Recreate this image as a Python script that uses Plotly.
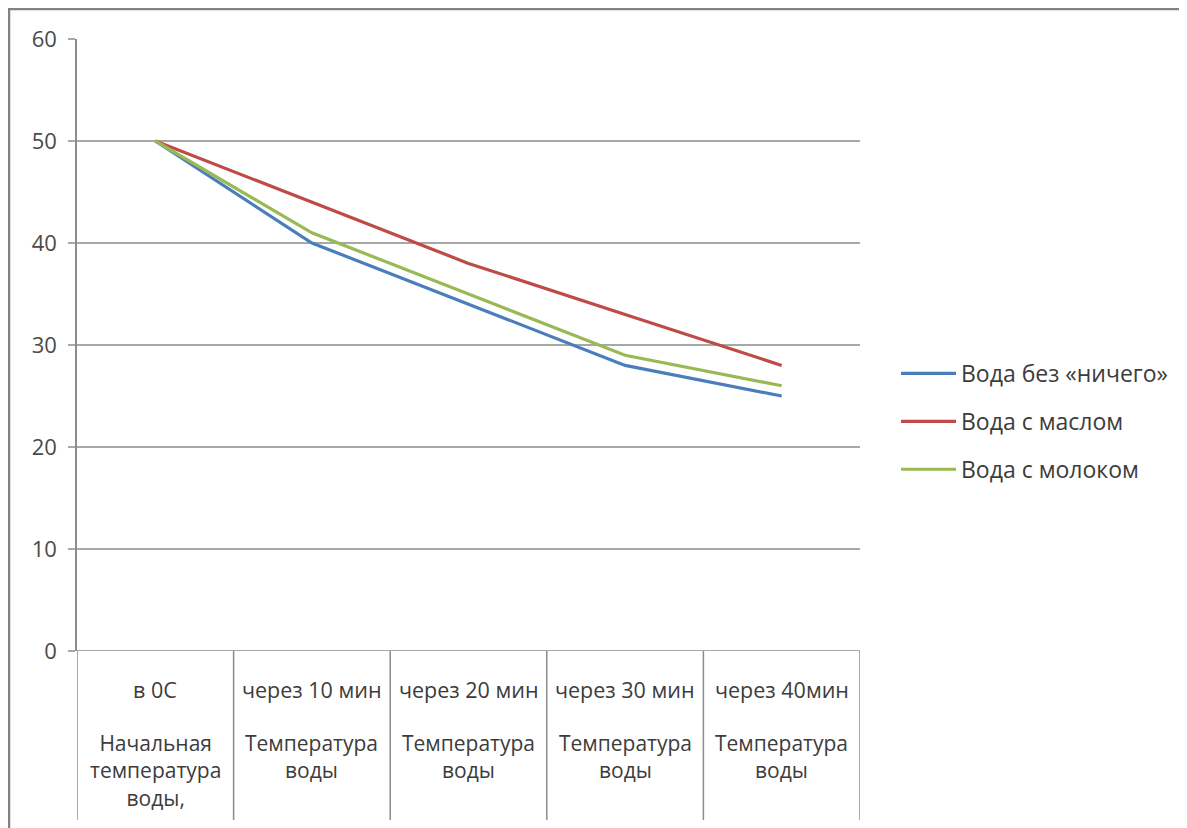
import plotly.graph_objects as go

categories = ["в 0С", "через 10 мин", "через 20 мин", "через 30 мин", "через 40мин"]
sub_labels = ["Начальная<br>температура<br>воды,", "Температура<br>воды", "Температура<br>воды",
              "Температура<br>воды", "Температура<br>воды"]
series_names = ["Вода без «ничего»", "Вода с маслом", "Вода с молоком"]
plain_water = [50, 40, 34, 28, 25]
oil_water = [50, 44, 38, 33, 28]
milk_water = [50, 41, 35, 29, 26]
y_ticks = [0, 10, 20, 30, 40, 50, 60]

colors = ["#4A7EBB", "#BE4B48", "#98B954"]
FONT = "Open Sans"
TXT = "#3c3c3c"
GRID = "#a8a8a8"
AX = "#8c8c8c"

OFF = 8  # page body margin
W, H = 1187 - OFF, 828 - OFF
L = 77 - OFF
R = W - (860 - OFF)
T = 39 - OFF
B = H - (651 - OFF)
plot_h = H - T - B
plot_w = W - L - R

def py(pix):  # page pixel y -> paper y
    return (H - B - (pix - OFF)) / plot_h

def px(pix):  # page pixel x -> paper x
    return ((pix - OFF) - L) / plot_w

x = list(range(len(categories)))
fig = go.Figure()
for i, (name, vals) in enumerate(zip(series_names, [plain_water, oil_water, milk_water])):
    fig.add_trace(go.Scatter(x=x, y=vals, mode="lines", name=name,
                             line=dict(color=colors[i], width=3.2),
                             legendgroup=name))

shapes = []
for b in [i - 0.5 for i in range(len(categories) + 1)]:
    shapes.append(dict(type="line", xref="x", yref="paper", x0=b, x1=b,
                       y0=0, y1=py(820), line=dict(color=AX, width=1.5)))
shapes.append(dict(type="rect", xref="paper", yref="paper", x0=px(9), x1=px(1260),
                   y0=py(900), y1=py(9), line=dict(color="#828282", width=2.5),
                   fillcolor="rgba(0,0,0,0)", layer="below"))

annotations = []
for i, (c, s) in enumerate(zip(categories, sub_labels)):
    annotations.append(dict(x=i, y=py(689), xref="x", yref="paper", text=c,
                            showarrow=False, yanchor="middle", xanchor="center",
                            font=dict(family=FONT, size=21.5, color=TXT)))
    annotations.append(dict(x=i, y=py(727), xref="x", yref="paper", text=s,
                            showarrow=False, yanchor="top", xanchor="center",
                            font=dict(family=FONT, size=21, color=TXT)))

fig.update_layout(
    width=W, height=H,
    margin=dict(l=L, r=R, t=T, b=B),
    paper_bgcolor="white", plot_bgcolor="white",
    showlegend=True,
    legend=dict(x=px(896), y=py(352), xanchor="left", yanchor="top",
                font=dict(family=FONT, size=23, color=TXT),
                tracegroupgap=15, itemwidth=55, bgcolor="rgba(0,0,0,0)"),
    xaxis=dict(range=[-0.5, len(categories) - 0.5], showgrid=False, zeroline=False,
               showticklabels=False, showline=False, fixedrange=True),
    yaxis=dict(range=[0, 60], tickvals=y_ticks, showgrid=True, gridcolor=GRID, gridwidth=1.5,
               zeroline=False, showline=True, linecolor=AX, linewidth=1.5,
               ticks="outside", ticklen=7, tickcolor=GRID, tickwidth=1.5,
               ticklabelstandoff=7,
               tickfont=dict(family=FONT, size=22, color="#4a4a4a")),
    shapes=shapes,
    annotations=annotations,
)
fig.add_hline(y=0, line=dict(color=AX, width=1.5))

fig.write_html("out.html")
